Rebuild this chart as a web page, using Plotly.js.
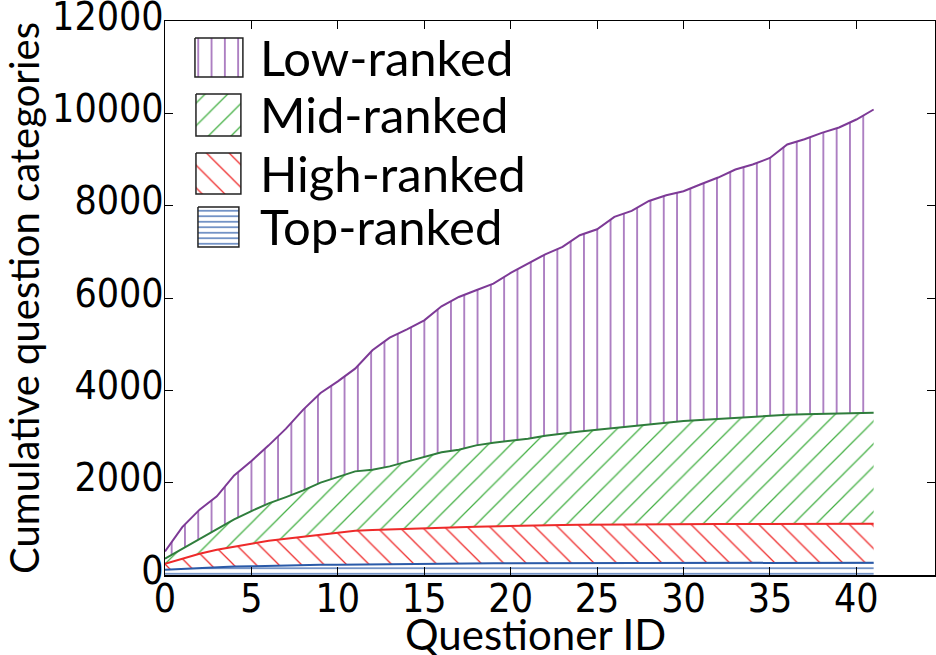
<!DOCTYPE html>
<html><head><meta charset="utf-8">
<script src="https://cdn.plot.ly/plotly-3.0.1.min.js"></script>
<style>html,body{margin:0;padding:0;background:#fff}</style>
</head><body><div id="chart" style="width:936px;height:655px"></div>
<script>
// Questioner IDs
const questionerId = [0,1,2,3,4,5,6,7,8,9,10,11,12,13,14,15,16,17,18,19,20,21,22,23,24,25,26,27,28,29,30,31,32,33,34,35,36,37,38,39,40,41];
// Cumulative (stacked) totals
const topRankedCum = [115,136,158,172,185,190,200,210,216,220,223,228,232,236,240,243,246,249,251,253,255,256,258,259,260,260,261,261,262,262,263,263,263,264,264,264,265,265,265,266,266,266];
const highRankedCum = [245,353,461,548,620,678,743,787,836,886,923,960,973,988,1003,1015,1025,1035,1045,1055,1062,1070,1078,1083,1088,1092,1095,1097,1099,1100,1101,1102,1103,1104,1105,1106,1107,1108,1108,1109,1110,1111];
const midRankedCum = [353,562,779,988,1205,1385,1551,1688,1833,2000,2122,2245,2282,2353,2455,2555,2657,2715,2808,2867,2902,2953,3018,3070,3110,3148,3190,3225,3265,3300,3335,3360,3385,3410,3435,3459,3470,3480,3490,3500,3510,3517];
const lowRankedCum = [511,1038,1415,1703,2158,2469,2808,3170,3582,3942,4195,4470,4867,5142,5322,5517,5820,6022,6167,6312,6542,6740,6947,7106,7359,7489,7756,7886,8102,8226,8313,8464,8609,8783,8891,9034,9325,9440,9576,9693,9866,10083];
const seriesNames = ['Low-ranked','Mid-ranked','High-ranked','Top-ranked'];
const xTickVals = [0,5,10,15,20,25,30,35,40];
const yTickVals = [0,2000,4000,6000,8000,10000,12000];
const xTitle = 'Questioner ID';
const yTitle = 'Cumulative question categories';

const FONT = 'Lato, "Open Sans", sans-serif';
const TICKFONT = '"Liberation Sans Narrow", "DejaVu Sans Condensed", Lato, sans-serif';
const styles = {
  'Top-ranked':  {line:'#2a5aa8', hatch:'#2a5aa8', shape:'-',  size:5.5,  sol:0.22},
  'High-ranked': {line:'#ee2a2a', hatch:'#ee2a2a', shape:'\\', size:16, sol:0.08},
  'Mid-ranked':  {line:'#2f7d3c', hatch:'#45b045', shape:'/',  size:16, sol:0.08},
  'Low-ranked':  {line:'#7d3a96', hatch:'#8a48a8', shape:'|',  size:13.3, sol:0.1}
};
function pat(s){return {shape:s.shape, fgcolor:s.hatch, fgopacity:1, bgcolor:'rgba(255,255,255,0)', size:s.size, solidity:s.sol, fillmode:'overlay'};}

const order = [['Top-ranked', topRankedCum, 'tozeroy'], ['High-ranked', highRankedCum, 'tonexty'], ['Mid-ranked', midRankedCum, 'tonexty'], ['Low-ranked', lowRankedCum, 'tonexty']];
const traces = order.map(([name, ys, fill]) => {
  const s = styles[name];
  return {x: questionerId, y: ys, name: name, type:'scatter', mode:'lines', fill: fill,
    fillcolor:'rgba(255,255,255,0)', fillpattern: pat(s),
    line:{color:s.line, width:2}, showlegend:false, hoverinfo:'skip'};
});

// Custom legend (boxes in plot-pixel coordinates on an overlay axis)
const boxX = {'Low-ranked':[30,78], 'Mid-ranked':[31,76], 'High-ranked':[31,76], 'Top-ranked':[33,74]};
const boxY = {'Low-ranked':[17,56], 'Mid-ranked':[73,115], 'High-ranked':[132,173], 'Top-ranked':[186,226]};
const annotations = [];
seriesNames.forEach(name => {
  const s = styles[name]; const [y0,y1] = boxY[name]; const [x0,x1] = boxX[name];
  traces.push({x:[x0,x1,x1,x0,x0], y:[y0,y0,y1,y1,y0], xaxis:'x2', yaxis:'y2',
    type:'scatter', mode:'lines', fill:'toself', fillcolor:'white', fillpattern: pat(s),
    line:{color:'#222', width:1.5}, showlegend:false, hoverinfo:'skip'});
  annotations.push({xref:'x2', yref:'y2', x:93, y:(y0+y1)/2 - 1, text:name, showarrow:false,
    xanchor:'left', yanchor:'middle', font:{family:FONT, size:49, color:'#000'}});
});
// x-axis title drawn as an annotation so it can sit near the bottom edge as in the reference
annotations.push({xref:'paper', yref:'paper', x:0.481, y:-0.106, text:xTitle, showarrow:false,
  xanchor:'center', yanchor:'middle', font:{family:FONT, size:42, color:'#000'}});

const axisCommon = {showgrid:false, zeroline:false, showline:true, linecolor:'#000', linewidth:1.5,
  mirror:'ticks', ticks:'inside', ticklen:8, tickwidth:1, tickcolor:'#000',
  ticklabeloverflow:'allow',
  tickfont:{family:TICKFONT, size:39, color:'#000'}};

const layout = {
  width:936, height:655, paper_bgcolor:'#fff', plot_bgcolor:'#fff',
  margin:{l:165, r:1, t:21, b:80},
  font:{family:FONT, color:'#000'},
  xaxis: Object.assign({}, axisCommon, {range:[0,44.55], tickvals:xTickVals, ticktext:xTickVals.map(String),
    ticklabelstandoff:-11}),
  yaxis: Object.assign({}, axisCommon, {range:[0,12000], tickvals:yTickVals, ticktext:yTickVals.map(String),
    ticklabelstandoff:-8, ticklabelshift:-5,
    title:{text:yTitle, font:{family:FONT, size:40}, standoff:6}}),
  xaxis2:{overlaying:'x', anchor:'y2', range:[0,771], visible:false, fixedrange:true},
  yaxis2:{overlaying:'y', anchor:'x2', range:[554,0], visible:false, fixedrange:true},
  annotations: annotations,
  showlegend:false
};
Plotly.newPlot('chart', traces, layout, {displayModeBar:false, staticPlot:true});
</script></body></html>
